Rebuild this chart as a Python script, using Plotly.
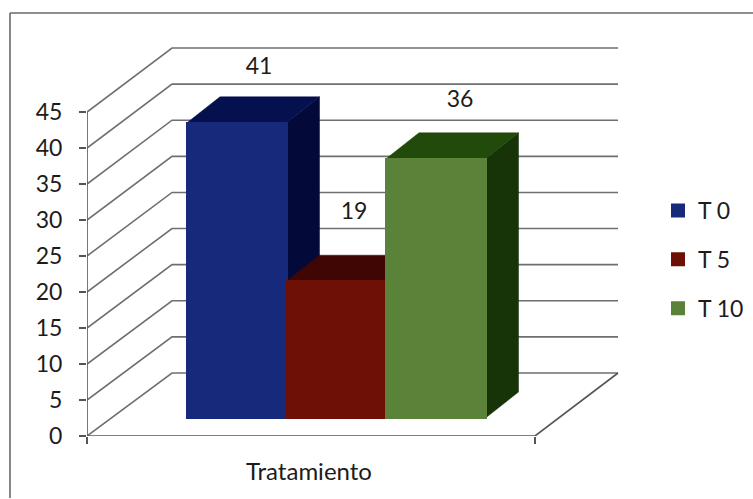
import plotly.graph_objects as go

# Data
categories = ["T 0", "T 5", "T 10"]
values = [41, 19, 36]
front_colors = ["#16297a", "#6e1006", "#5a8238"]
top_colors = ["#05114f", "#3f0604", "#224a0a"]
side_colors = ["#030a3a", "#3f0604", "#173308"]
y_ticks = [0, 5, 10, 15, 20, 25, 30, 35, 40, 45]
x_title = "Tratamiento"
grid_color = "#6f6f6f"
axis_color = "#555555"
text_color = "#1c1c1c"
font = "Lato, Carlito, 'Open Sans', sans-serif"

# Pseudo-3D layout, x axis in pixels, y axis in chart values
W, H = 753, 499
AX_L, AX_B = 87, 436          # pixel position of the front-left origin
PX = (436 - 112) / 45         # pixels per value
WALL_DX = 85
WALL_B = (436 - 373) / PX     # back wall base, in values
WALL_S = (373 - 48) / 324     # back wall scale factor
FLOOR_R = 535
WALL_R = 618
BAR_L = 187
BAR_W = 99.5
BAR_BASE = 18 / PX
DEPTH_X = 33
DEPTH_Y = 26 / PX


def back(v):
    return v * WALL_S + WALL_B


fig = go.Figure()

# Back wall gridlines and left wall diagonals
for v in y_ticks:
    fig.add_trace(go.Scatter(
        x=[AX_L, AX_L + WALL_DX, WALL_R], y=[v, back(v), back(v)],
        mode="lines", line=dict(color=grid_color, width=1.6),
        showlegend=False, hoverinfo="skip", cliponaxis=False))

# Floor and axis lines
fig.add_trace(go.Scatter(
    x=[AX_L, AX_L, FLOOR_R, WALL_R], y=[45, 0, 0, back(0)],
    mode="lines", line=dict(color=axis_color, width=1.6),
    showlegend=False, hoverinfo="skip", cliponaxis=False))

# Side and top faces, left to right so that nearer bars cover farther ones
for i, val in enumerate(values):
    x0 = BAR_L + i * BAR_W
    x1 = x0 + BAR_W
    top = BAR_BASE + val
    fig.add_trace(go.Scatter(
        x=[x1, x1 + DEPTH_X, x1 + DEPTH_X, x1, x1],
        y=[BAR_BASE, BAR_BASE + DEPTH_Y, top + DEPTH_Y, top, BAR_BASE],
        mode="lines", fill="toself", fillcolor=side_colors[i],
        line=dict(color=side_colors[i], width=0.5),
        showlegend=False, hoverinfo="skip"))
    fig.add_trace(go.Scatter(
        x=[x0, x0 + DEPTH_X, x1 + DEPTH_X, x1, x0],
        y=[top, top + DEPTH_Y, top + DEPTH_Y, top, top],
        mode="lines", fill="toself", fillcolor=top_colors[i],
        line=dict(color=top_colors[i], width=0.5),
        showlegend=False, hoverinfo="skip"))

# Front faces, on an overlaying subplot so that they sit above the lines
for i, val in enumerate(values):
    fig.add_trace(go.Bar(
        x=[BAR_L + (i + 0.5) * BAR_W], y=[val], base=BAR_BASE, width=BAR_W,
        name=categories[i], legendgroup=categories[i],
        xaxis="x2", yaxis="y2",
        marker=dict(color=front_colors[i],
                    line=dict(width=2, color=front_colors[i]))))

# Value labels
label_x = [259, 354, 460]
label_y = [51.1, 30.9, 46.5]
fig.add_trace(go.Scatter(
    x=label_x, y=label_y, text=[str(v) for v in values], mode="text",
    textfont=dict(family=font, size=23, color=text_color),
    showlegend=False, hoverinfo="skip"))

x_range = [AX_L, W]
y_range = [0, AX_B / PX]
fig.update_layout(
    width=W, height=H, autosize=False,
    margin=dict(l=AX_L, r=0, t=0, b=H - AX_B),
    paper_bgcolor="white", plot_bgcolor="white",
    barmode="overlay", bargap=0,
    font=dict(family=font, color=text_color),
    legend=dict(
        x=(658 - AX_L) / (W - AX_L), y=(AX_B - 189) / AX_B,
        xanchor="left", yanchor="top",
        bgcolor="rgba(0,0,0,0)", borderwidth=0,
        font=dict(family=font, size=23, color=text_color),
        tracegroupgap=16, itemwidth=30),
    xaxis=dict(
        range=x_range, showgrid=False, zeroline=False, showline=False,
        tickmode="array", tickvals=[AX_L, FLOOR_R],
        ticktext=["", ""],
        ticks="outside", ticklen=7, tickcolor=axis_color, tickwidth=1.5),
    yaxis=dict(
        range=y_range, showgrid=False, zeroline=False, showline=False,
        tickmode="array", tickvals=y_ticks,
        ticks="outside", ticklen=7, tickcolor=axis_color, tickwidth=1.5,
        ticklabelstandoff=12,
        tickfont=dict(family=font, size=23, color=text_color)),
    xaxis2=dict(range=x_range, overlaying="x", visible=False),
    yaxis2=dict(range=y_range, overlaying="y", visible=False),
    annotations=[dict(
        text=x_title, xref="x", x=309, yref="paper", y=(AX_B - 470) / AX_B,
        xanchor="center", yanchor="middle", showarrow=False,
        font=dict(family=font, size=24, color=text_color))],
    shapes=[
        dict(type="line", xref="paper", yref="paper", layer="below",
             x0=(10 - AX_L) / (W - AX_L), x1=(10 - AX_L) / (W - AX_L),
             y0=(AX_B - 498) / AX_B, y1=(AX_B - 13) / AX_B,
             line=dict(color="#6a6a6a", width=1.6)),
        dict(type="line", xref="paper", yref="paper", layer="below",
             x0=(10 - AX_L) / (W - AX_L), x1=1,
             y0=(AX_B - 13) / AX_B, y1=(AX_B - 13) / AX_B,
             line=dict(color="#6a6a6a", width=1.6)),
    ],
)

fig.write_html("out.html", config={"displayModeBar": False},
               post_script="document.body.style.margin='0';document.documentElement.style.overflow='hidden';")
